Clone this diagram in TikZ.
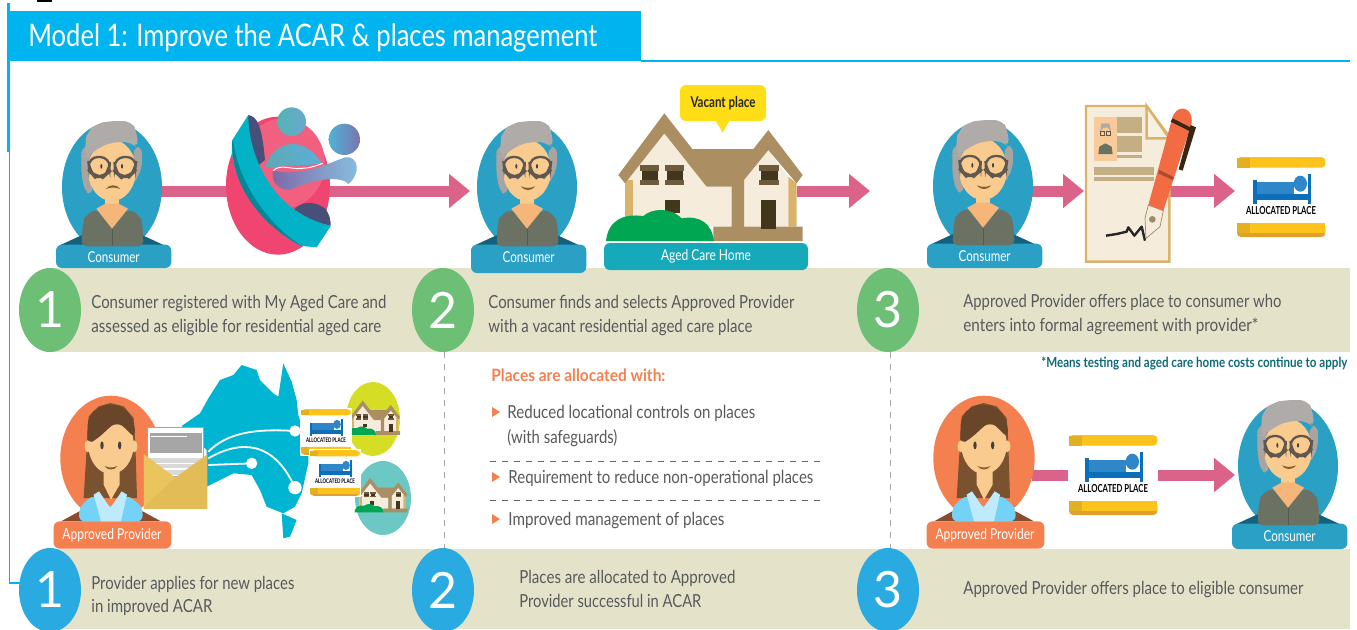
\documentclass[tikz,border=0pt]{standalone}
\usepackage{fontspec}
\usepackage{graphicx}
\setmainfont{Lato}
\usetikzlibrary{arrows.meta,shapes.geometric}
\definecolor{cyanb}{HTML}{00B4EF}
\definecolor{bandc}{HTML}{E4E3CA}
\definecolor{greenc}{HTML}{6CBF75}
\definecolor{bluec}{HTML}{29ABE2}
\definecolor{arrowc}{HTML}{DB6389}
\definecolor{txtc}{HTML}{58595B}
\definecolor{consc}{HTML}{2BA0C5}
\definecolor{consd}{HTML}{14617E}
\definecolor{olive}{HTML}{6B7163}
\definecolor{skin}{HTML}{F9CB8E}
\definecolor{skind}{HTML}{F6B579}
\definecolor{hairg}{HTML}{AFABA9}
\definecolor{hairb}{HTML}{A8A4A1}
\definecolor{glassc}{HTML}{5E5850}
\definecolor{eyec}{HTML}{45413C}
\definecolor{orangec}{HTML}{F47F4F}
\definecolor{brownd}{HTML}{8A4B2F}
\definecolor{brownh}{HTML}{7B5230}
\definecolor{roofc}{HTML}{AB8F63}
\definecolor{cream}{HTML}{F6ECDC}
\definecolor{tanc}{HTML}{D9B36C}
\definecolor{darkw}{HTML}{43361F}
\definecolor{framew}{HTML}{6E5A3C}
\definecolor{bushc}{HTML}{00A651}
\definecolor{tealc}{HTML}{15A9BA}
\definecolor{yell}{HTML}{FBC31B}
\definecolor{yelld}{HTML}{E3B021}
\definecolor{yello}{HTML}{E0A030}
\definecolor{bedd}{HTML}{0B70B9}
\definecolor{bedl}{HTML}{2F86C8}
\definecolor{pinkd}{HTML}{EF4570}
\definecolor{pinkl}{HTML}{F2607F}
\definecolor{phonec}{HTML}{04B2C8}
\definecolor{phoned}{HTML}{465078}
\definecolor{mapc}{HTML}{00B5D2}
\definecolor{envd}{HTML}{E2BC57}
\definecolor{envl}{HTML}{EAC45C}
\definecolor{docr}{HTML}{C4AE84}
\definecolor{penc}{HTML}{F26B43}
\definecolor{bubc}{HTML}{FFDD17}
\definecolor{lime2}{HTML}{D5DE24}
\definecolor{teal2}{HTML}{6BC8C4}
\definecolor{notec}{HTML}{0E6A77}
\definecolor{bodyl}{HTML}{5FA9B5}
\definecolor{bodyr}{HTML}{5AB0D8}
\definecolor{wavel}{HTML}{7E68A8}
\definecolor{waver}{HTML}{86C2E0}
\definecolor{heada}{HTML}{55B3B5}
\definecolor{headb}{HTML}{6AA8CE}
\definecolor{headc}{HTML}{4FB2D5}
\definecolor{headd}{HTML}{7B74B0}
\newcommand{\ft}[2]{\resizebox{\dimexpr #1pt/2\relax}{\height}{#2}}
\tikzset{
  x=0.5pt,y=-0.5pt,
  p3/.style={scale=1/3},
  ptxt/.style={anchor=base west,inner sep=0pt,text=txtc,font=\fontsize{9}{12}\selectfont},
  lbl/.style={inner sep=0pt,text=white,font=\fontsize{7.5}{9}\selectfont},
  numg/.style={ellipse,fill=greenc,text=white,minimum width=31pt,minimum height=42pt,inner sep=0pt,font=\fontsize{25}{25}\selectfont},
  numb/.style={numg,fill=bluec},
  flow/.style={draw=arrowc,line width=5.5pt,-{Triangle[length=10.5pt,width=16.5pt]}},
  flowbar/.style={draw=arrowc,line width=5.5pt},
  vdash/.style={draw=gray!70,dashed,line width=0.35pt},
  hdash/.style={draw=black!60,dashed,line width=0.35pt},
  pics/consumer/.style 2 args={code={
    \fill[consc] (0,0) ellipse [x radius=150,y radius=195];
    \fill[consd] (-157,175) -- (-92,145) -- (92,145) -- (157,175) -- cycle;
    \fill[consc,rounded corners=3pt] (-168,173) rectangle (178,#2);
    \fill[hairb,rounded corners=3pt] (-92,-120) -- (-66,-120) -- (-55,-20) -- (-62,25) -- (-82,12) -- (-92,-40) -- cycle;
    \fill[hairb,rounded corners=3pt] (90,-120) -- (66,-120) -- (62,-10) -- (76,-25) -- (90,-60) -- cycle;
    \fill[skin] (-20,10) rectangle (20,70);
    \fill[skin] (0,-50) ellipse [x radius=72,y radius=92];
    \fill[olive,rounded corners=3pt] (-92,178) -- (-87,105) -- (-79,85) -- (-47,65) -- (0,125) -- (48,65) -- (83,85) -- (91,110) -- (95,178) -- cycle;
    \fill[skind] (-47,65) -- (-20,50) -- (20,50) -- (48,65) -- (0,125) -- cycle;
    \draw[olive!80!black,line width=0.3pt] (0,125) -- (0,178);
    \fill[hairg,rounded corners=4pt] (-82,-90) -- (-79,-140) -- (-75,-165) -- (-47,-190) -- (-7,-198) -- (58,-198) -- (75,-165) -- (78,-115) -- (58,-135) -- (3,-135) -- (-37,-120) -- (-75,-90) -- cycle;
    \draw[glassc,line width=1.15pt,rounded corners=5pt] (-72,-90) -- (-6,-90) -- (-8,-45) -- (-25,-30) -- (-52,-30) -- (-68,-48) -- cycle;
    \draw[glassc,line width=1.15pt,rounded corners=5pt] (7,-90) -- (74,-90) -- (69,-48) -- (52,-30) -- (25,-30) -- (9,-45) -- cycle;
    \fill[eyec] (-32,-62) ellipse [x radius=3,y radius=7];
    \fill[eyec] (30,-62) ellipse [x radius=3,y radius=7];
    \begin{scope}[shift={(3,2)},yscale=#1]
      \fill[black!10!brown!80!black] (-22,-4) .. controls (-5,2) and (5,2) .. (22,-4) .. controls (10,11) and (-10,11) .. cycle;
    \end{scope}
    \node[lbl] (-lbl) at (5,210) {\ft{52}{Consumer}};
    \coordinate (-east) at (148,0);
  }},
  pics/provider/.style={code={
    \fill[orangec] (0,0) ellipse [x radius=152,y radius=187];
    \fill[brownd] (-150,190) -- (-95,160) -- (95,160) -- (150,190) -- cycle;
    \fill[orangec,rounded corners=3pt] (-172,190) rectangle (181,272);
    \fill[brownh] (-72,-45) -- (-67,-125) -- (-37,-155) -- (-2,-165) -- (38,-155) -- (68,-120) -- (73,-45) -- (78,120) -- (-82,120) -- cycle;
    \fill[skin] (-22,30) -- (26,30) -- (26,80) -- (0,125) -- (-22,80) -- cycle;
    \fill[skin] (0,-40) ellipse [x radius=68,y radius=88];
    \fill[skin] (-70,-35) ellipse [x radius=9,y radius=18];
    \fill[skin] (70,-35) ellipse [x radius=9,y radius=18];
    \fill[black!15!brownh,rounded corners=4pt] (-72,-40) -- (-69,-125) -- (-37,-155) -- (3,-162) -- (43,-150) -- (70,-110) -- (73,-57) -- (43,-90) -- (18,-110) -- (-7,-90) -- (-37,-60) -- cycle;
    \fill[eyec] (-27,-38) ellipse [x radius=5,y radius=12];
    \fill[eyec] (26,-38) ellipse [x radius=5,y radius=12];
    \fill[black!10!brown!80!black] (-20,24) .. controls (-5,30) and (5,30) .. (20,24) .. controls (10,38) and (-10,38) .. cycle;
    \fill[cyan!55!white,rounded corners=3pt] (-97,190) -- (-94,145) -- (-52,110) -- (-2,150) -- (48,110) -- (93,145) -- (96,190) -- cycle;
    \fill[cyan!25!white] (-52,110) -- (-36,100) -- (-2,150) -- (32,100) -- (48,110) -- (30,190) -- (-30,190) -- cycle;
    \node[lbl] (-lbl) at (3,232) {\ft{99}{Approved Provider}};
    \coordinate (-east) at (150,0);
  }},
  pics/house/.style={code={
    \fill[cream] (-255,20) -- (-137,-130) -- (-10,30) -- (65,30) -- (65,150) -- (-255,150) -- cycle;
    \fill[cream] (102,10) -- (175,-80) -- (235,0) -- (235,150) -- (102,150) -- cycle;
    \fill[tanc] (-255,10) rectangle (-232,150);
    \fill[tanc] (235,0) -- (260,20) -- (260,150) -- (235,150) -- cycle;
    \fill[roofc] (-275,-5) -- (-137,-190) -- (-53,-83) -- (130,-83) -- (175,-140) -- (278,-5) -- (260,20) -- (175,-80) -- (102,10) -- (102,150) -- (278,150) -- (278,193) -- (10,193) -- (10,150) -- (65,150) -- (65,30) -- (-10,30) -- (-137,-130) -- (-255,20) -- cycle;
    \foreach \dx in {0,75,358}{
      \fill[framew] (-210+\dx,-34) rectangle (-152+\dx,-16);
      \fill[darkw] (-205+\dx,-16) rectangle (-155+\dx,10);
      \fill[framew] (-210+\dx,10) rectangle (-152+\dx,26);
    }
    \fill[darkw] (153,70) rectangle (198,157);
    \fill[darkw] (-135,70) rectangle (-90,110);
    \fill[bushc] (-312,193) .. controls (-305,130) and (-260,110) .. (-200,118) .. controls (-175,95) and (-120,90) .. (-85,125) .. controls (-30,115) and (5,140) .. (12,193) -- cycle;
  }},
  pics/allocated/.style={code={
    \fill[white] (-135,-125) rectangle (135,125);
    \fill[yell,rounded corners=2pt] (-132,-88) -- (-132,-120) -- (133,-120) -- (133,-88) -- cycle;
    \fill[yelld] (-132,-88) -- (-132,-118) -- (-92,-118) -- (-92,-88) -- cycle;
    \fill[yello,rounded corners=2pt] (-132,78) -- (133,78) -- (133,120) -- (-132,120) -- cycle;
    \fill[yell] (-132,78) rectangle (133,108);
    \fill[yelld] (-132,78) rectangle (-92,108);
    \fill[bedl] (-72,-45) rectangle (40,-8);
    \fill[bedl] (58,-40) ellipse [x radius=20,y radius=24];
    \fill[bedd] (-84,-50) rectangle (-72,22);
    \fill[bedd] (80,-70) rectangle (91,22);
    \fill[bedd] (-84,-10) rectangle (91,8);
    \node[transform shape,inner sep=0pt,text=black,font=\fontsize{16.5}{18}\bfseries\selectfont] at (0,42) {\ft{210}{ALLOCATED PLACE}};
  }}
}
\begin{document}
\begin{tikzpicture}
\useasboundingbox (0,0) rectangle (1357,629);
\clip (0,0) rectangle (1357,629);
% frame and title
\fill[black] (37,0) rectangle (52,2);
\draw[cyanb,line width=0.7pt] (641,61) -- (1350,61);
\draw[cyanb,line width=0.7pt] (9.5,61) -- (9.5,583) -- (25,583);
\fill[cyanb] (7,3) rectangle (10,152);
\fill[cyanb] (9,11) rectangle (641,61);
\node[anchor=base west,inner sep=0pt,text=white,font=\fontsize{15.5}{18}\selectfont] (title) at (28,46) {\ft{569}{Model 1: Improve the ACAR \& places management}};
% bands
\fill[bandc] (45,268) rectangle (1350,352);
\fill[bandc] (45,549) rectangle (1350,629);
% dashed rules
\draw[vdash] (444,352) -- (444,549);
\draw[vdash] (890,352) -- (890,549);
\draw[hdash] (490,461) -- (823,461);
\draw[hdash] (490,500) -- (823,500);
% named connector ends
\coordinate (a1end) at (470,191);
\coordinate (a2start) at (797,191);
\coordinate (a2end) at (870,191);
\coordinate (a3end) at (1084,191);
\coordinate (a4start) at (1169,191);
\coordinate (a4end) at (1235,191);
\coordinate (b1end) at (1068,475);
\coordinate (b2start) at (1158,475);
\coordinate (b2end) at (1235,475);
\coordinate (c1s) at (160,191);
\coordinate (c3s) at (1030,191);
\coordinate (p2s) at (1032,475);
\draw[flow] (c1s) -- (a1end);
\draw[flow] (a2start) -- (a2end);
\draw[flow] (c3s) -- (a3end);
\draw[flow] (a4start) -- (a4end);
\draw[flowbar] (p2s) -- (b1end);
\draw[flow] (b2start) -- (b2end);
% people
\pic[p3] (c1) at (112,187) {consumer={-1}{243}};
\pic[p3] (c2) at (527,187) {consumer={1}{258}};
\pic[p3] (c3) at (983,186) {consumer={1}{246}};
\pic[p3] (c4) at (1288,466) {consumer={1}{249}};
\pic[p3] (p1) at (111,458) {provider};
\pic[p3] (p2) at (984,458) {provider};
% phone icon
\begin{scope}[p3]
  \fill[pinkd] (834,557) ellipse [x radius=156,y radius=207];
  \fill[pinkl] (850,490) ellipse [x radius=125,y radius=135];
  \fill[phoned] (745,345) .. controls (770,350) and (785,370) .. (795,480) -- (770,500) -- (720,420) -- cycle;
  \fill[phoned] (880,632) .. controls (900,605) and (940,600) .. (975,625) .. controls (990,645) and (992,660) .. (992,677) -- (930,670) -- cycle;
  \fill[phonec] (697,420) -- (745,345) .. controls (745,470) and (820,640) .. (993,677) -- (950,742) -- (905,738) .. controls (800,690) and (680,540) .. (697,420) -- cycle;
  \fill[phonec!75!black] (700,425) .. controls (715,545) and (800,670) .. (905,738) .. controls (790,680) and (690,560) .. (697,420) -- cycle;
  \shade[left color=bodyl,right color=bodyr] (797,500) .. controls (815,430) and (905,395) .. (965,490) .. controls (910,500) and (850,490) .. (820,505) -- cycle;
  \shade[left color=wavel,right color=waver] (820,512) .. controls (900,530) and (960,500) .. (1035,472) .. controls (1075,465) and (1085,520) .. (1045,552) .. controls (1030,530) and (950,530) .. (870,570) .. controls (830,570) and (812,540) .. (820,512) -- cycle;
  \draw[white,line width=0.5pt] (820,512) .. controls (840,490) and (880,510) .. (900,505) .. controls (930,505) and (950,497) .. (968,490);
  \shade[left color=heada,right color=headb] (875,365) circle [radius=43];
  \shade[left color=headc,right color=headd] (1033,418) circle [radius=47];
\end{scope}
% house 1
\pic[p3] (h1) at (710,176.7) {house};
\node[fill=bubc,rounded corners=3pt,minimum width=43pt,minimum height=18pt,inner sep=0pt,text=black!85,font=\fontsize{7.5}{9}\bfseries\selectfont] (vac) at (723,103) {\ft{65}{Vacant place}};
\fill[bubc] (714,118) -- (722.7,132.3) -- (731,118) -- cycle;
\node[fill=tealc,rounded corners=3pt,minimum width=102pt,minimum height=13.5pt,inner sep=0pt,text=white,font=\fontsize{7.5}{9}\selectfont] (ach) at (706,256.5) {\ft{90}{Aged Care Home}};
% document and pen
\begin{scope}[shift={(900,90)},p3]
  \filldraw[fill=cream,draw=tanc,line width=1.2pt] (558,48) -- (740,48) -- (808,140) -- (808,515) -- (558,515) -- cycle;
  \filldraw[fill=cream!80!white,draw=tanc,line width=1.2pt] (740,48) -- (740,145) -- (808,145) -- cycle;
  \fill[orange!30!cream] (582,82) rectangle (650,212);
  \fill[docr] (650,82) rectangle (725,130);
  \fill[docr] (650,138) rectangle (725,185);
  \fill[docr] (650,195) rectangle (725,205);
  \fill[docr] (582,232) rectangle (762,255);
  \fill[docr] (582,262) rectangle (762,274);
  \fill[olive] (595,192) -- (598,170) -- (616,160) -- (635,170) -- (638,192) -- cycle;
  \fill[skin] (616,135) ellipse [x radius=15,y radius=20];
  \fill[hairg] (600,125) -- (604,100) -- (628,100) -- (633,125) -- (622,112) -- (608,115) -- cycle;
  \draw[glassc,line width=0.35pt] (602,125) rectangle (614,136) (618,125) rectangle (631,136);
  \draw[black!85,line width=1.2pt,line join=round] (618,437) -- (650,432) -- (680,425) -- (685,412) -- (703,437) -- (725,410) -- (735,452);
  \filldraw[fill=cream,draw=docr!80!black,line width=0.35pt] (745,345) -- (790,362) -- (780,410) -- (738,445) -- (735,385) -- cycle;
  \fill[docr!80!black] (757,388) circle [radius=10];
  \fill[penc] (745,345) -- (815,90) .. controls (825,40) and (880,45) .. (875,100) -- (790,362) -- cycle;
  \fill[black!70!brown] (812,95) -- (818,85) -- (882,118) -- (878,128) -- cycle;
  \fill[black!70!brown] (872,105) -- (888,112) -- (848,242) -- (836,238) -- cycle;
  \fill[penc!70!black] (775,250) -- (778,240) -- (822,262) -- (818,270) -- cycle;
\end{scope}
% allocated places, top right and bottom
\pic[p3] (ap1) at (1281,197) {allocated};
\pic[p3] (ap2) at (1113,475) {allocated};
% Australia
\begin{scope}[shift={(0,350)},p3]
  \fill[mapc] (545,228) -- (600,190) -- (625,145) -- (660,90) -- (700,75) -- (725,45) -- (770,60) -- (780,90) -- (820,130) -- (835,140) -- (850,40) -- (875,95) -- (890,150) -- (895,195) -- (925,290) -- (925,340) -- (905,430) -- (885,470) -- (850,490) -- (800,470) -- (780,420) -- (755,375) -- (700,370) -- (620,410) -- (620,300) -- cycle;
  \fill[mapc] (845,490) -- (890,510) -- (870,560) -- (850,565) -- cycle;
  \draw[white,line width=0.9pt] (625,305) .. controls (680,250) and (760,235) .. (885,243);
  \draw[white,line width=0.9pt] (625,325) .. controls (720,270) and (820,270) .. (885,413);
  \draw[white,line width=0.9pt] (625,345) -- (755,340);
  \fill[white] (885,243) circle [radius=17];
  \fill[white] (885,413) circle [radius=20];
  \fill[white] (755,340) circle [radius=17];
  \filldraw[fill=white,draw=black!35,line width=0.5pt] (443,233) rectangle (612,380);
  \fill[black!35] (450,250) rectangle (605,310);
  \fill[white] (452,258) rectangle (560,262);
  \fill[black!15] (450,325) rectangle (605,375);
  \fill[white] (450,338) rectangle (605,342);
  \fill[white] (450,355) rectangle (605,359);
  \fill[envd] (432,313) -- (525,383) -- (622,313) -- (622,477) -- (432,477) -- cycle;
  \fill[envl] (432,313) -- (525,383) -- (432,470) -- cycle;
\end{scope}
% small houses and allocated tags
\fill[lime2] (373,419) ellipse [x radius=27,y radius=37];
\fill[teal2] (383,498) ellipse [x radius=28,y radius=37];
\pic[scale=0.09] (hs1) at (375,417.5) {house};
\pic[scale=0.09] (hs2) at (382.5,495) {house};
\pic[scale=0.19] (ap3) at (326,432) {allocated};
\pic[scale=0.19] (ap4) at (335,473) {allocated};
% numbers
\node[numg] (g1) at (50,310) {1};
\node[numg] (g2) at (443,310) {2};
\node[numg] (g3) at (888,310) {3};
\node[numb] (b1) at (50,590) {1};
\node[numb] (b2) at (443,590) {2};
\node[numb] (b3) at (888,590) {3};
% band texts
\node[ptxt] (t1a) at (91,308) {\ft{295}{Consumer registered with My Aged Care and}};
\node[ptxt] (t1b) at (91,332) {\ft{290}{assessed as eligible for residential aged care}};
\node[ptxt] (t2a) at (488,308) {\ft{306}{Consumer finds and selects Approved Provider}};
\node[ptxt] (t2b) at (488,332) {\ft{264}{with a vacant residential aged care place}};
\node[ptxt] (t3a) at (963,307) {\ft{318}{Approved Provider offers place to consumer who}};
\node[ptxt] (t3b) at (963,331) {\ft{295}{enters into formal agreement with provider*}};
\node[ptxt] (u1a) at (91,589) {\ft{203}{Provider applies for new places}};
\node[ptxt] (u1b) at (91,612) {\ft{121}{in improved ACAR}};
\node[ptxt] (u2a) at (519,583) {\ft{216}{Places are allocated to Approved}};
\node[ptxt] (u2b) at (519,607) {\ft{182}{Provider successful in ACAR}};
\node[ptxt] (u3a) at (963,594) {\ft{340}{Approved Provider offers place to eligible consumer}};
% footnote
\node[ptxt,text=notec,font=\fontsize{7}{9}\bfseries\selectfont] (note) at (1041,367) {\ft{306}{*Means testing and aged care home costs continue to apply}};
% middle list
\node[ptxt,text=orangec,font=\fontsize{8.5}{10}\bfseries\selectfont] (pl) at (491,381) {\ft{174}{Places are allocated with:}};
\fill[orangec] (492,407) -- (500,412) -- (492,417) -- cycle;
\fill[orangec] (492,472) -- (500,477) -- (492,482) -- cycle;
\fill[orangec] (492,514) -- (500,519) -- (492,524) -- cycle;
\node[ptxt] (m1a) at (507,418) {\ft{248}{Reduced locational controls on places}};
\node[ptxt] (m1b) at (507,443) {\ft{110}{(with safeguards)}};
\node[ptxt] (m2) at (508,483) {\ft{305}{Requirement to reduce non-operational places}};
\node[ptxt] (m3) at (508,525) {\ft{216}{Improved management of places}};
\end{tikzpicture}
\end{document}
